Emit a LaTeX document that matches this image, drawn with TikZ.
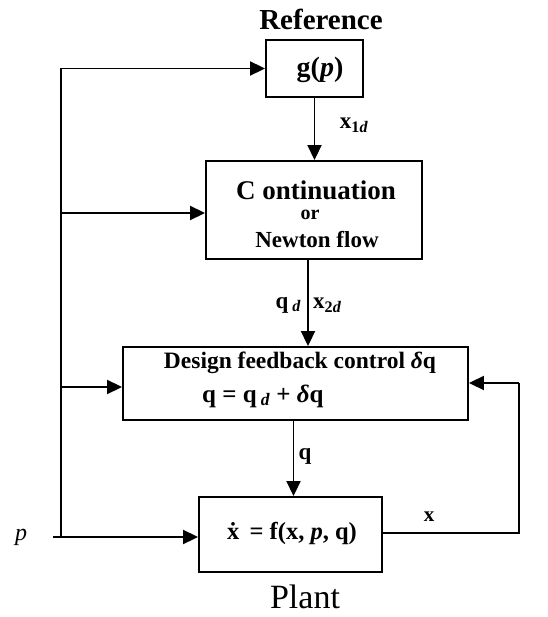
\documentclass[tikz,border=0pt]{standalone}
\usepackage{fontspec}
\setmainfont{Liberation Serif}
\usetikzlibrary{arrows.meta,calc}
\tikzset{
  blk/.style={draw,line width=1.9pt,rectangle,inner sep=0pt},
  arr/.style={line width=1.9pt,-{Triangle[length=15pt,width=14pt]}},
  ln/.style={line width=1.9pt},
  txt/.style={inner sep=0pt,font=\bfseries}
}
\begin{document}
\begin{tikzpicture}[x=1pt,y=-1pt]
\useasboundingbox (0,0) rectangle (547,617);
% boxes
\node[blk,minimum width=97pt,minimum height=57pt] (g) at (314.5,68.5) {};
\node[blk,minimum width=216pt,minimum height=98pt] (cont) at (314,210) {};
\node[blk,minimum width=345pt,minimum height=73pt] (des) at (295.5,383.5) {};
\node[blk,minimum width=183pt,minimum height=75pt] (plant) at (290.5,534.5) {};
% texts
\node[txt,font=\bfseries\fontsize{29}{31}\selectfont] (ref) at (321,19) {Reference};
\node[txt,font=\bfseries\fontsize{28}{30}\selectfont] (gt) at (320,70) {g(\textit{p})};
\node[txt,font=\bfseries\fontsize{27}{29}\selectfont] (c1) at (316,190) {C ontinuation};
\node[txt,font=\bfseries\fontsize{20}{22}\selectfont] (c2) at (310,215) {or};
\node[txt,font=\bfseries\fontsize{23}{25}\selectfont] (c3) at (317,240) {Newton flow};
\node[txt,font=\bfseries\fontsize{23.5}{25}\selectfont] (d1) at (300,363) {Design feedback control {\itshape δ}q};
\node[txt,font=\bfseries\fontsize{25}{27}\selectfont,anchor=west] (d2) at (202,396) {q = q\,\textsubscript{\itshape d} + {\itshape δ}q};
\node[txt,font=\bfseries\fontsize{24.5}{26}\selectfont] (pt) at (292,533) {ẋ\, = f(x, \textit{p}, q)};
\node[inner sep=0pt,font=\fontsize{34}{36}\selectfont] (pl) at (305,597) {Plant};
\node[inner sep=0pt,font=\itshape\fontsize{24}{26}\selectfont] (p) at (21,537) {p};
% connector labels
\node[txt,font=\bfseries\fontsize{23}{25}\selectfont] (lx1) at (354,125) {x\textsubscript{1\itshape d}};
\node[txt,font=\bfseries\fontsize{23}{25}\selectfont,anchor=east] (lqd) at (301,305) {q\,\textsubscript{\itshape d}};
\node[txt,font=\bfseries\fontsize{23}{25}\selectfont,anchor=west] (lx2) at (313,305) {x\textsubscript{2\itshape d}};
\node[txt,font=\bfseries\fontsize{23}{25}\selectfont] (lq) at (305,456) {q};
\node[txt,font=\bfseries\fontsize{21}{23}\selectfont] (lx) at (429,517) {x};
% coordinates
\coordinate (pin) at (53,537);
\coordinate (bus) at (61,537);
\coordinate (fb1) at (519,533);
\coordinate (fb2) at (519,383);
% vertical flow
\draw[arr] (g.south) -- (g.south |- cont.north);
\draw[arr] ([xshift=-6pt]cont.south) -- ([xshift=-6pt]cont.south |- des.north);
\draw[arr] ([xshift=-2pt]des.south) -- ([xshift=-2pt]des.south |- plant.north);
% p bus
\draw[arr] (pin) -- (plant.west |- pin);
\draw[ln] (bus) -- (bus |- g.west);
\draw[arr] (bus |- g.west) -- (g.west);
\draw[arr] (61,213) -- (cont.west |- 61,213);
\draw[arr] (61,387) -- (des.west |- 61,387);
% feedback
\draw[ln] (plant.east |- fb1) -- (fb1) -- (fb2);
\draw[arr] (fb2) -- (des.east |- fb2);
\end{tikzpicture}
\end{document}
